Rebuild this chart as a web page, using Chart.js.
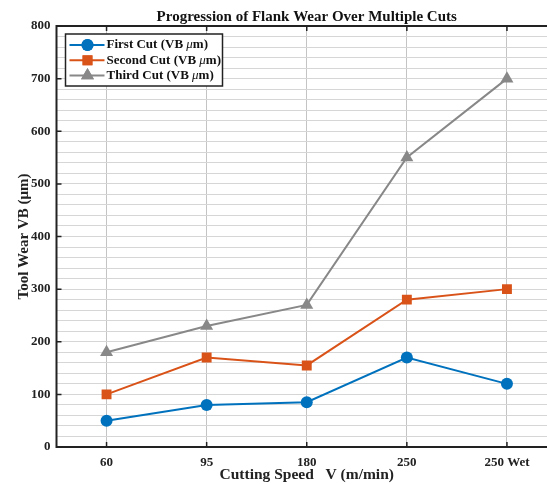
<!DOCTYPE html>
<html>
<head>
<meta charset="utf-8">
<script src="https://cdn.jsdelivr.net/npm/chart.js@4.4.1/dist/chart.umd.min.js"></script>
<style>
  html, body { margin: 0; padding: 0; background: #fff; overflow: hidden; }
  #wrap { width: 547px; height: 484px; overflow: hidden; }
</style>
</head>
<body>
<div id="wrap"><canvas id="wear-chart" width="610" height="484"></canvas></div>
<script>
// data
const speeds = ['60', '95', '180', '250', '250 Wet'];
const firstCut = [50, 80, 85, 170, 120];
const secondCut = [100, 170, 155, 280, 300];
const thirdCut = [180, 230, 270, 550, 700];
const seriesNames = ['First Cut (VB \u03bcm)', 'Second Cut (VB \u03bcm)', 'Third Cut (VB \u03bcm)'];
const yTickLabels = [0, 100, 200, 300, 400, 500, 600, 700, 800];
const chartTitle = 'Progression of Flank Wear Over Multiple Cuts';

const FONT = "'Liberation Serif', 'Times New Roman', serif";
const colors = ['#0072BD', '#D95319', '#888888'];
const styles = ['circle', 'rect', 'triangle'];
const radii = [6, 7, 7.5];

// draw text where the mu comes out in italic
function drawMixed(ctx, text, x, y) {
  const parts = text.split('\u03bc');
  let cx = x;
  parts.forEach((p, i) => {
    ctx.font = 'bold 13px ' + FONT;
    ctx.fillText(p, cx, y);
    cx += ctx.measureText(p).width;
    if (i < parts.length - 1) {
      ctx.font = 'italic 13px ' + FONT;
      ctx.fillText('\u03bc', cx, y);
      cx += ctx.measureText('\u03bc').width;
    }
  });
}

const frame = {
  id: 'frame',
  afterDraw(chart) {
    const { ctx, chartArea: { left, right, top, bottom }, scales: { x, y } } = chart;
    ctx.save();
    ctx.strokeStyle = '#222';
    ctx.lineWidth = 2;
    ctx.beginPath();
    ctx.moveTo(left, top); ctx.lineTo(right, top); ctx.lineTo(right, bottom);
    ctx.lineTo(left, bottom); ctx.closePath();
    ctx.stroke();
    // inward ticks
    ctx.lineWidth = 1.5;
    ctx.beginPath();
    speeds.forEach((s, i) => {
      const px = x.getPixelForValue(i);
      ctx.moveTo(px, bottom); ctx.lineTo(px, bottom - 5);
      ctx.moveTo(px, top); ctx.lineTo(px, top + 5);
    });
    yTickLabels.forEach(v => {
      const py = y.getPixelForValue(v);
      ctx.moveTo(left, py); ctx.lineTo(left + 5, py);
    });
    ctx.stroke();

    // title centred over the axes box
    ctx.fillStyle = '#111';
    ctx.font = 'bold 15px ' + FONT;
    ctx.textAlign = 'center';
    ctx.textBaseline = 'alphabetic';
    ctx.fillText(chartTitle, (left + right) / 2, top - 5);

    // legend box in the upper left corner
    const bx = left + 9, by = top + 8, bw = 157, bh = 52;
    ctx.fillStyle = '#fff';
    ctx.fillRect(bx, by, bw, bh);
    ctx.strokeStyle = '#222';
    ctx.lineWidth = 1.5;
    ctx.strokeRect(bx, by, bw, bh);
    chart.data.datasets.forEach((ds, i) => {
      const ry = by + 11 + i * 15.3;
      ctx.strokeStyle = ds.borderColor;
      ctx.lineWidth = 2;
      ctx.beginPath();
      ctx.moveTo(bx + 4, ry); ctx.lineTo(bx + 39, ry);
      ctx.stroke();
      ctx.fillStyle = ds.pointBackgroundColor;
      Chart.helpers.drawPoint(ctx, { pointStyle: ds.pointStyle, radius: ds.pointRadius, rotation: 0, borderWidth: 0 }, bx + 22, ry);
      ctx.fill();
      ctx.fillStyle = '#111';
      ctx.textBaseline = 'middle';
      ctx.textAlign = 'left';
      drawMixed(ctx, ds.label, bx + 41, ry);
    });
    ctx.restore();
  }
};

const datasets = [firstCut, secondCut, thirdCut].map((vals, i) => ({
  label: seriesNames[i],
  data: vals,
  borderColor: colors[i],
  backgroundColor: colors[i],
  pointBackgroundColor: colors[i],
  pointBorderColor: colors[i],
  pointBorderWidth: 0,
  pointStyle: styles[i],
  pointRadius: radii[i],
  borderWidth: 2,
  tension: 0
}));

new Chart(document.getElementById('wear-chart').getContext('2d'), {
  type: 'line',
  data: { labels: speeds, datasets: datasets },
  options: {
    responsive: false,
    animation: false,
    devicePixelRatio: 1,
    layout: { padding: { left: 0, right: 53, top: 26, bottom: 0 } },
    plugins: {
      legend: { display: false },
      tooltip: { enabled: false },
      title: { display: false }
    },
    scales: {
      x: {
        offset: true,
        grid: { color: '#c4c4c4', lineWidth: 1, offset: false, drawTicks: false },
        border: { display: false },
        ticks: { color: '#222', padding: 8, font: { family: FONT, size: 13, weight: 'bold' } },
        title: {
          display: true,
          text: 'Cutting Speed   V (m/min)',
          color: '#222',
          padding: { top: 2, bottom: 0 },
          font: { family: FONT, size: 15.5, weight: 'bold' }
        },
        afterFit(scale) { scale.height = 37; }
      },
      y: {
        min: 0,
        max: 800,
        grid: { color: '#d6d6d6', lineWidth: 1, drawTicks: false },
        border: { display: false },
        ticks: {
          stepSize: 20,
          autoSkip: false,
          color: '#222',
          padding: 6,
          font: { family: FONT, size: 13, weight: 'bold' },
          callback: v => yTickLabels.includes(v) ? v : ''
        },
        title: {
          display: true,
          text: 'Tool Wear VB (\u03bcm)',
          color: '#222',
          padding: { top: 15, bottom: 0 },
          font: { family: FONT, size: 15, weight: 'bold' }
        },
        afterFit(scale) { scale.width = 56.5; }
      }
    }
  },
  plugins: [frame]
});
</script>
</body>
</html>
